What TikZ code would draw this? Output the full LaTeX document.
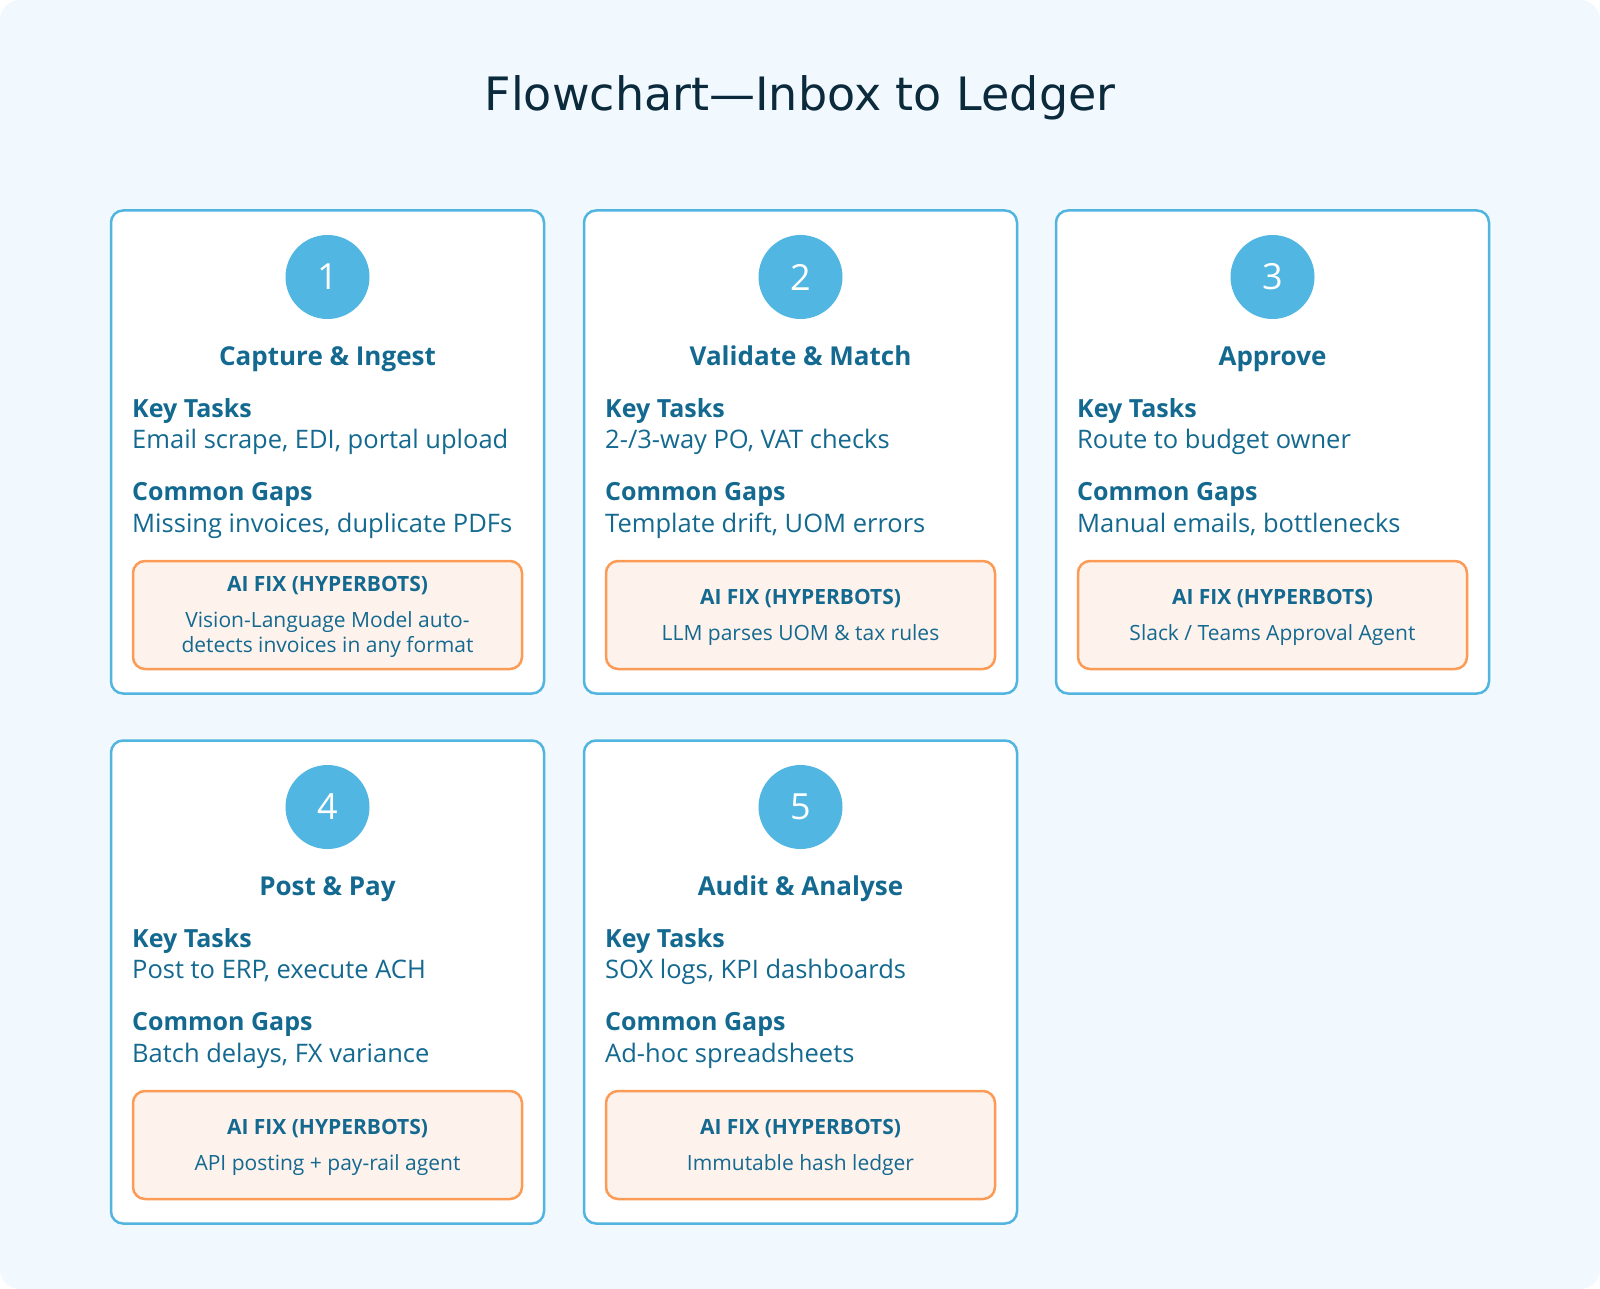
\documentclass[tikz,border=0pt]{standalone}
\usepackage{fontspec}
\setmainfont{Open Sans}
\newfontfamily\titlefont{DejaVu Sans}
\usepackage{xcolor}
\usepackage{tikz}
\usetikzlibrary{positioning}
\definecolor{pagebg}{HTML}{F1F8FE}
\definecolor{ink}{HTML}{13698F}
\definecolor{titleink}{HTML}{0B2A3C}
\definecolor{cardline}{HTML}{52B5E0}
\definecolor{numfill}{HTML}{52B6E2}
\definecolor{fixline}{HTML}{FB9B55}
\definecolor{fixfill}{HTML}{FEF2EC}
\tikzstyle{card}=[draw=cardline,line width=2.5pt,fill=white,rounded corners=12pt,minimum width=433pt,minimum height=483pt,inner sep=0pt]
\tikzstyle{num}=[circle,fill=numfill,minimum size=84pt,inner sep=0pt,text=white,font=\fontsize{36}{40}\selectfont]
\tikzstyle{head}=[inner sep=0pt,text=ink,font=\fontsize{26}{30}\selectfont\bfseries]
\tikzstyle{lbl}=[inner sep=0pt,text=ink,font=\fontsize{25}{30}\selectfont\bfseries]
\tikzstyle{txt}=[inner sep=0pt,text=ink,font=\fontsize{25.5}{30}\selectfont]
\tikzstyle{fixbox}=[draw=fixline,fill=fixfill,line width=2.5pt,rounded corners=12pt,minimum width=389pt,minimum height=108pt,inner sep=0pt]
\tikzstyle{fixtxt}=[inner sep=0pt,text=ink,align=center,font=\fontsize{21}{25}\selectfont]
% #1 id, #2 left, #3 top, #4 number, #5 stage, #6 tasks, #7 gaps, #8 fix
\newcommand\stage[8]{%
  \node[card] (card#1) at (#2+217.5,#3+242) {};
  \node[num] (num#1) at (#2+217.5,#3+67) {#4};
  \node[head,anchor=base] (head#1) at (#2+217.5,#3+155) {#5};
  \node[lbl,anchor=base west] (kt#1) at (#2+22,#3+207) {Key Tasks};
  \node[txt,anchor=base west] (tasks#1) at (#2+22,#3+238) {#6};
  \node[lbl,anchor=base west] (cg#1) at (#2+22,#3+290) {Common Gaps};
  \node[txt,anchor=base west] (gaps#1) at (#2+22,#3+322) {#7};
  \node[fixbox] (fix#1) at (#2+217.5,#3+405) {};
  \node[fixtxt] (fixtxt#1) at ([yshift=-2pt]fix#1.center) {\bfseries AI FIX (HYPERBOTS)\\[11pt]#8};
}
\begin{document}
\begin{tikzpicture}[x=1pt,y=-1pt]
  \useasboundingbox (0,0) rectangle (1600,1289);
  \fill[white] (0,0) rectangle (1600,1289);
  \fill[pagebg,rounded corners=20pt] (0,0) rectangle (1600,1289);
  \node[inner sep=0pt,anchor=base,text=titleink,font=\titlefont\fontsize{46}{52}\selectfont] (title) at (800,111) {Flowchart—Inbox to Ledger};
  \stage{1}{110}{210}{1}{Capture \& Ingest}{Email scrape, EDI, portal upload}{Missing invoices, duplicate PDFs}{Vision-Language Model auto-\\detects invoices in any format}
  \stage{2}{583}{210}{2}{Validate \& Match}{2-/3-way PO, VAT checks}{Template drift, UOM errors}{LLM parses UOM \& tax rules}
  \stage{3}{1055}{210}{3}{Approve}{Route to budget owner}{Manual emails, bottlenecks}{Slack / Teams Approval Agent}
  \stage{4}{110}{740}{4}{Post \& Pay}{Post to ERP, execute ACH}{Batch delays, FX variance}{API posting + pay-rail agent}
  \stage{5}{583}{740}{5}{Audit \& Analyse}{SOX logs, KPI dashboards}{Ad-hoc spreadsheets}{Immutable hash ledger}
\end{tikzpicture}
\end{document}
